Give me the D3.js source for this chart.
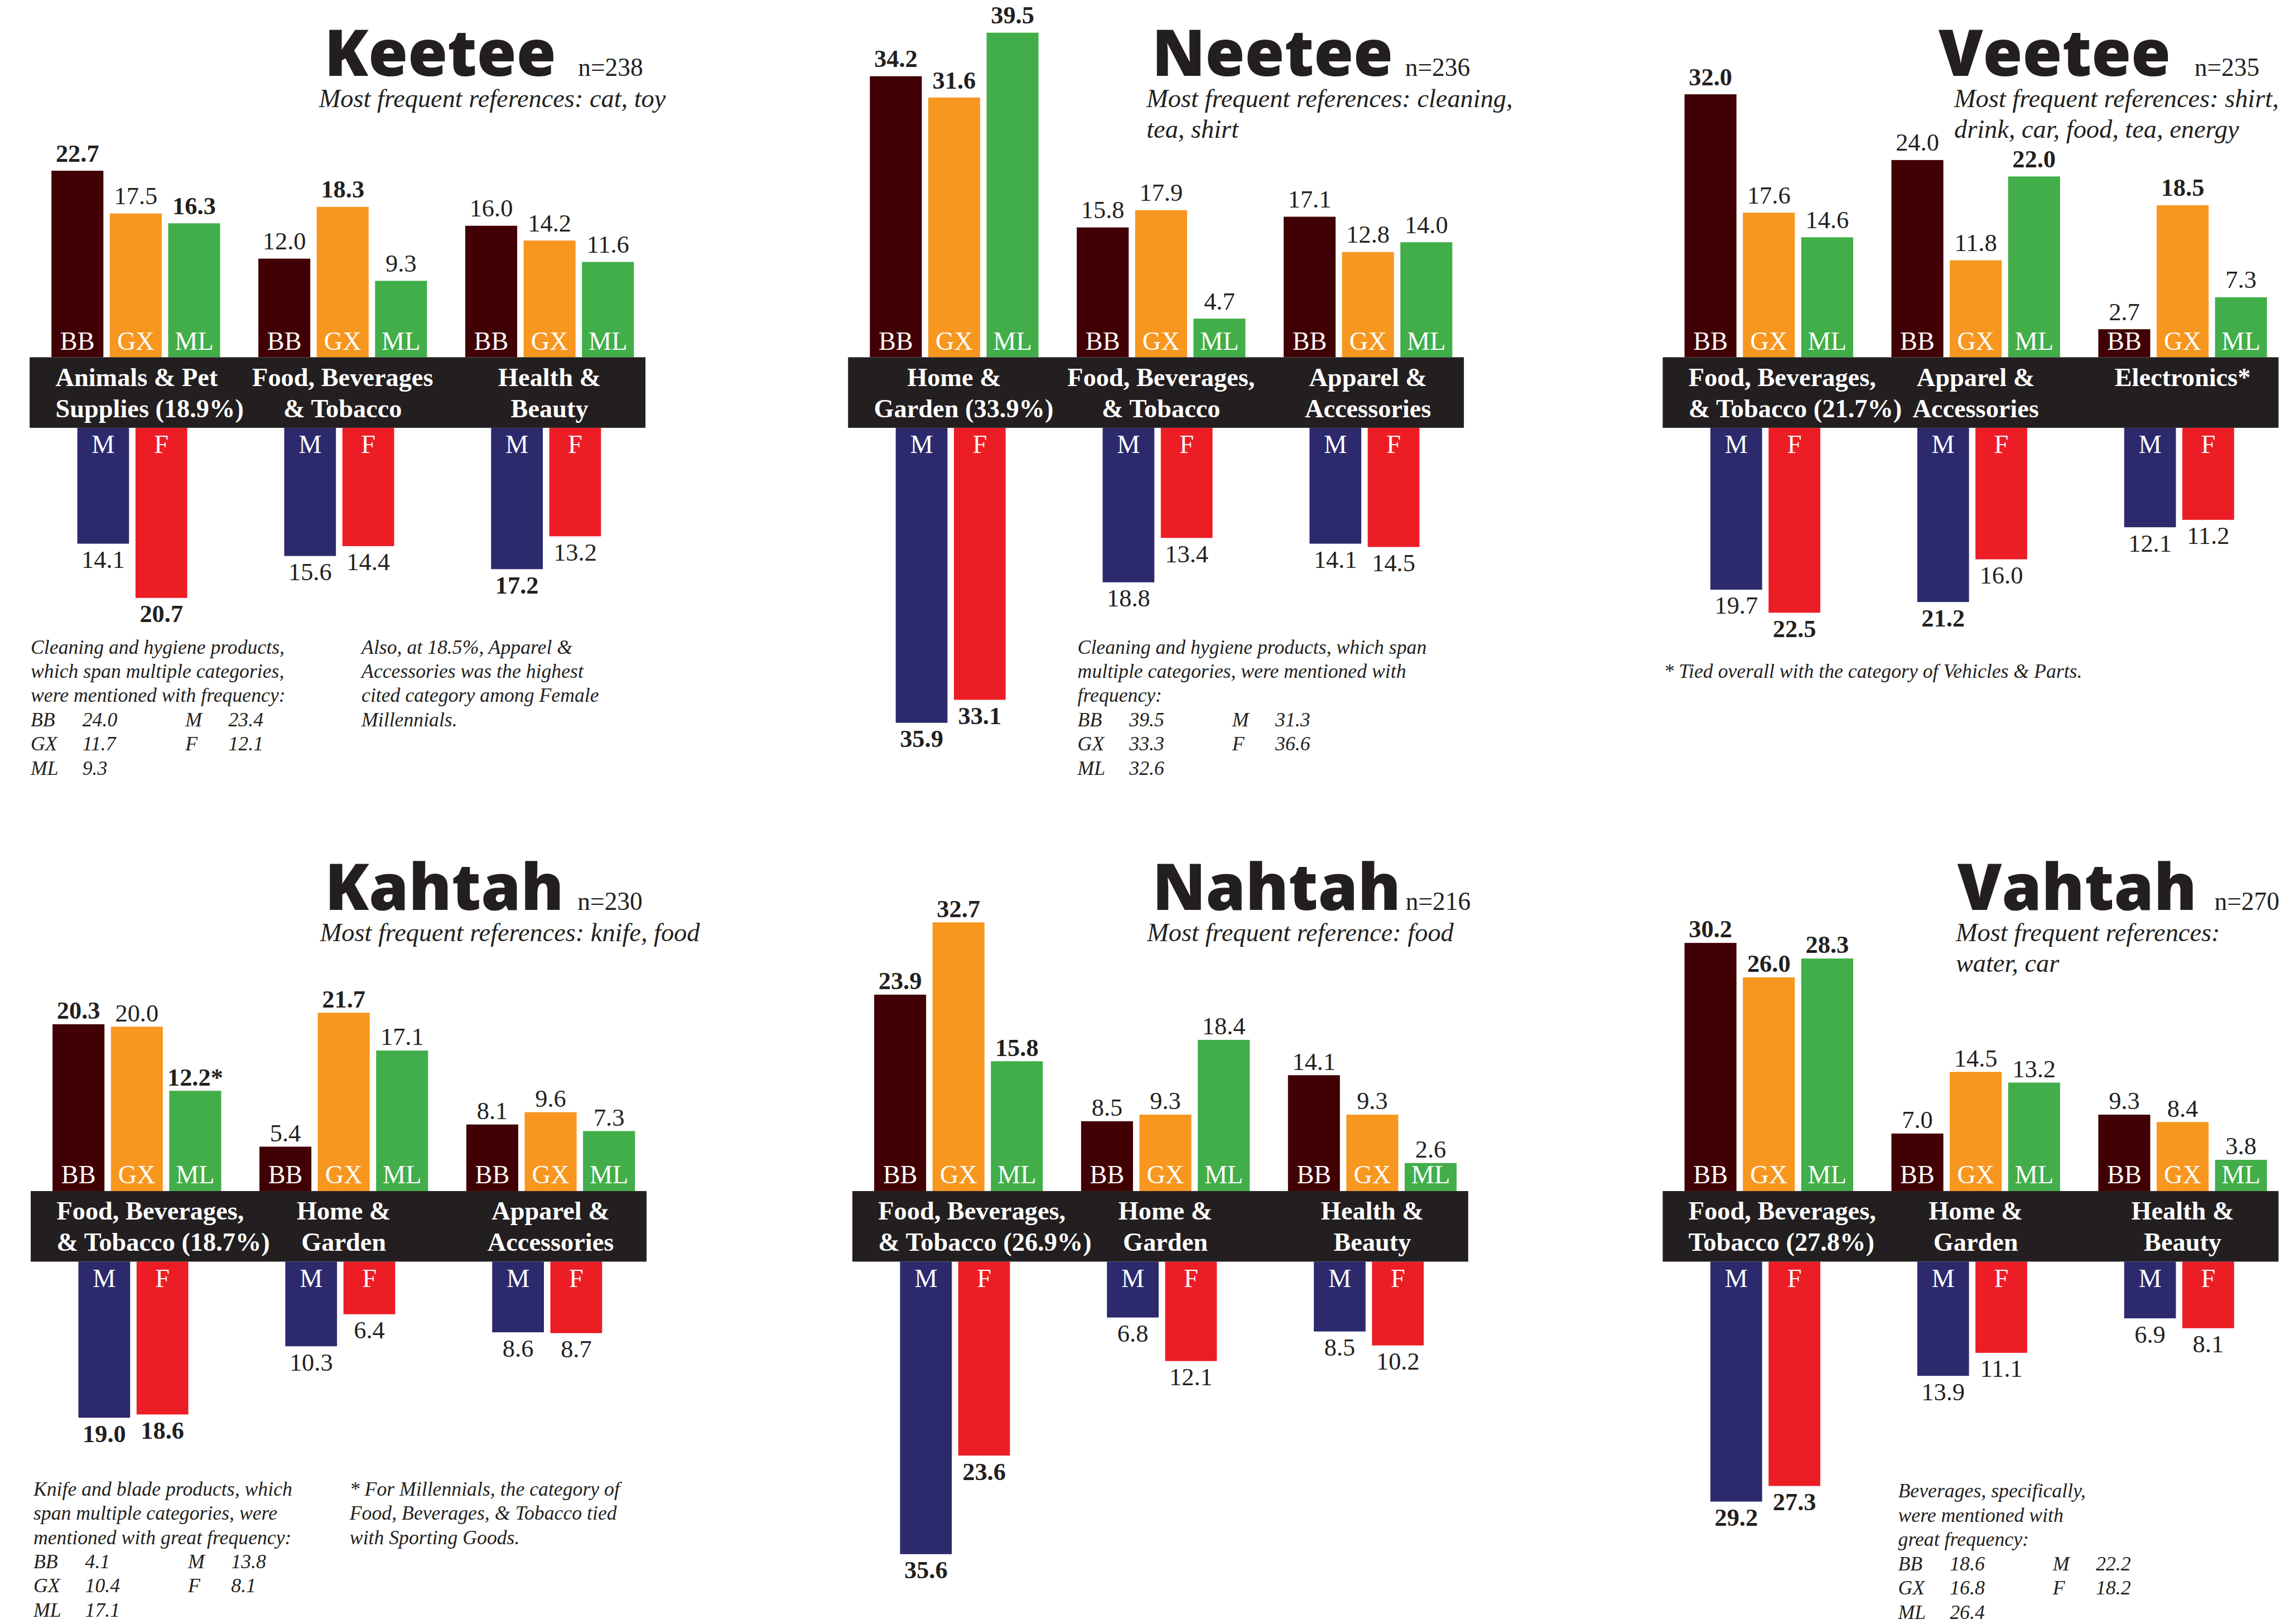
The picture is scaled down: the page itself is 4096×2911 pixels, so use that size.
<!DOCTYPE html>
<html>
<head>
<meta charset="utf-8">
<script src="https://cdn.jsdelivr.net/npm/d3@7"></script>
<style>
  body { margin: 0; background: #fff; }
</style>
</head>
<body>
<div id="chart"></div>
<script>
var svgWidth = 4096;
var svgHeight = 2911;
// the drawing is laid out in the reference's own units and scaled down by the viewBox
var refWidth = 4241;
var refHeight = 3014;

var demos = ["BB", "GX", "ML"];
var genders = ["M", "F"];
var tableRows = [["BB", "M"], ["GX", "F"], ["ML"]];

// Keetee
var keeteeSub = ["Most frequent references: cat, toy"];
var keeteeCats = ["Animals & Pet|Supplies (18.9%)", "Food, Beverages|& Tobacco", "Health &|Beauty"];
var keeteeBB = [22.7, 12.0, 16.0];
var keeteeGX = [17.5, 18.3, 14.2];
var keeteeML = [16.3, 9.3, 11.6];
var keeteeM = [14.1, 15.6, 17.2];
var keeteeF = [20.7, 14.4, 13.2];
var keeteeBold = [0, 1, 0, 2, 0]; // bold category index for BB, GX, ML, M, F
var keeteeCleaning = [24.0, 11.7, 9.3, 23.4, 12.1];

// Neetee
var neeteeSub = ["Most frequent references: cleaning,", "tea, shirt"];
var neeteeCats = ["Home &|Garden (33.9%)", "Food, Beverages,|& Tobacco", "Apparel &|Accessories"];
var neeteeBB = [34.2, 15.8, 17.1];
var neeteeGX = [31.6, 17.9, 12.8];
var neeteeML = [39.5, 4.7, 14.0];
var neeteeM = [35.9, 18.8, 14.1];
var neeteeF = [33.1, 13.4, 14.5];
var neeteeBold = [0, 0, 0, 0, 0];
var neeteeCleaning = [39.5, 33.3, 32.6, 31.3, 36.6];

// Veetee
var veeteeSub = ["Most frequent references: shirt,", "drink, car, food, tea, energy"];
var veeteeCats = ["Food, Beverages,|& Tobacco (21.7%)", "Apparel &|Accessories", "Electronics*"];
var veeteeBB = [32.0, 24.0, 2.7];
var veeteeGX = [17.6, 11.8, 18.5];
var veeteeML = [14.6, 22.0, 7.3];
var veeteeM = [19.7, 21.2, 12.1];
var veeteeF = [22.5, 16.0, 11.2];
var veeteeBold = [0, 2, 1, 1, 0];

// Kahtah
var kahtahSub = ["Most frequent references: knife, food"];
var kahtahCats = ["Food, Beverages,|& Tobacco (18.7%)", "Home &|Garden", "Apparel &|Accessories"];
var kahtahBB = [20.3, 5.4, 8.1];
var kahtahGX = [20.0, 21.7, 9.6];
var kahtahML = [12.2, 17.1, 7.3];
var kahtahMLMark = ["*", "", ""];
var kahtahM = [19.0, 10.3, 8.6];
var kahtahF = [18.6, 6.4, 8.7];
var kahtahBold = [0, 1, 0, 0, 0];
var kahtahBlades = [4.1, 10.4, 17.1, 13.8, 8.1];

// Nahtah
var nahtahSub = ["Most frequent reference: food"];
var nahtahCats = ["Food, Beverages,|& Tobacco (26.9%)", "Home &|Garden", "Health &|Beauty"];
var nahtahBB = [23.9, 8.5, 14.1];
var nahtahGX = [32.7, 9.3, 9.3];
var nahtahML = [15.8, 18.4, 2.6];
var nahtahM = [35.6, 6.8, 8.5];
var nahtahF = [23.6, 12.1, 10.2];
var nahtahBold = [0, 0, 0, 0, 0];

// Vahtah
var vahtahSub = ["Most frequent references:", "water, car"];
var vahtahCats = ["Food, Beverages,|Tobacco (27.8%)", "Home &|Garden", "Health &|Beauty"];
var vahtahBB = [30.2, 7.0, 9.3];
var vahtahGX = [26.0, 14.5, 8.4];
var vahtahML = [28.3, 13.2, 3.8];
var vahtahM = [29.2, 13.9, 6.9];
var vahtahF = [27.3, 11.1, 8.1];
var vahtahBold = [0, 0, 0, 0, 0];
var vahtahBeverages = [18.6, 16.8, 26.4, 22.2, 18.2];

var panels = [
  { name: "Keetee", n: 238, sub: keeteeSub, cats: keeteeCats,
    up: [keeteeBB, keeteeGX, keeteeML], down: [keeteeM, keeteeF], bold: keeteeBold,
    notes: [
      { lines: ["Cleaning and hygiene products,", "which span multiple categories,", "were mentioned with frequency:"], table: keeteeCleaning },
      { lines: ["Also, at 18.5%, Apparel &", "Accessories was the highest", "cited category among Female", "Millennials."] }
    ] },
  { name: "Neetee", n: 236, sub: neeteeSub, cats: neeteeCats,
    up: [neeteeBB, neeteeGX, neeteeML], down: [neeteeM, neeteeF], bold: neeteeBold,
    notes: [
      { lines: ["Cleaning and hygiene products, which span", "multiple categories, were mentioned with", "frequency:"], table: neeteeCleaning }
    ] },
  { name: "Veetee", n: 235, sub: veeteeSub, cats: veeteeCats,
    up: [veeteeBB, veeteeGX, veeteeML], down: [veeteeM, veeteeF], bold: veeteeBold,
    notes: [
      { lines: ["* Tied overall with the category of Vehicles & Parts."] }
    ] },
  { name: "Kahtah", n: 230, sub: kahtahSub, cats: kahtahCats,
    up: [kahtahBB, kahtahGX, kahtahML], down: [kahtahM, kahtahF], bold: kahtahBold,
    marks: { ML: kahtahMLMark },
    notes: [
      { lines: ["Knife and blade products, which", "span multiple categories, were", "mentioned with great frequency:"], table: kahtahBlades },
      { lines: ["* For Millennials, the category of", "Food, Beverages, & Tobacco tied", "with Sporting Goods."] }
    ] },
  { name: "Nahtah", n: 216, sub: nahtahSub, cats: nahtahCats,
    up: [nahtahBB, nahtahGX, nahtahML], down: [nahtahM, nahtahF], bold: nahtahBold,
    notes: [] },
  { name: "Vahtah", n: 270, sub: vahtahSub, cats: vahtahCats,
    up: [vahtahBB, vahtahGX, vahtahML], down: [vahtahM, vahtahF], bold: vahtahBold,
    notes: [
      { lines: ["Beverages, specifically,", "were mentioned with", "great frequency:"], table: vahtahBeverages }
    ] }
];

// where each panel sits (x = left edge of the black band, top = top of the band)
var layout = [
  { x: 55,   top: 663,    titleDx: 547, subDx: 537, nDx: 1018, noteDx: [2, 616], noteLine: [0, 0], noteY: 550, gap: 17 },
  { x: 1574, top: 663,    titleDx: 564, subDx: 554, nDx: 1034, noteDx: [426],    noteLine: [0],    noteY: 550, gap: 17 },
  { x: 3086, top: 663,    titleDx: 512, subDx: 541, nDx: 987,  noteDx: [2],      noteLine: [1],    noteY: 550, gap: 17 },
  { x: 57,   top: 2210.5, titleDx: 546, subDx: 537, nDx: 1015, noteDx: [5, 592], noteLine: [0, 0], noteY: 565, gap: 10 },
  { x: 1582, top: 2210.5, titleDx: 557, subDx: 547, nDx: 1027, noteDx: [],       noteLine: [],     noteY: 565, gap: 10 },
  { x: 3086, top: 2210.5, titleDx: 547, subDx: 544, nDx: 1024, noteDx: [437],    noteLine: [0],    noteY: 569, gap: 10 }
];

var bandWidth = 1143;
var bandHeight = 131;
var minBar = 52;
var titleWidth = 430;

var serif = "'Liberation Serif', 'Times New Roman', serif";
var sans = "'Open Sans', sans-serif";
var ink = "#231f20";
var fmt = d3.format(".1f");

var color = d3.scaleOrdinal()
  .domain(["BB", "GX", "ML", "M", "F"])
  .range(["#410104", "#f7971f", "#41ae49", "#2c2a6d", "#ed1d26"]);

var svg = d3.select("#chart")
  .append("svg")
  .attr("width", svgWidth)
  .attr("height", svgHeight)
  .attr("viewBox", `0 0 ${refWidth} ${refHeight}`);

svg.append("rect")
  .attr("width", refWidth)
  .attr("height", refHeight)
  .attr("fill", "#fff");

// size the title face so that "Keetee" comes out as wide as in the reference
var probe = svg.append("text")
  .attr("font-family", sans)
  .attr("font-weight", 800)
  .attr("font-size", 100)
  .text("Keetee");
var titleSize = 100 * titleWidth / probe.node().getComputedTextLength();
probe.remove();

// value scale, shared by every panel
var y = d3.scaleLinear().domain([0, 40]).range([0, 610]);

// groups of three bars, then the bars within a group
var x0 = d3.scaleBand().domain([0, 1, 2]).range([40.5, 1121.5]).paddingInner(71 / 384);
var x1 = d3.scaleBand().domain(demos).range([0, x0.bandwidth()]).paddingInner(0.11);
var xg = d3.scaleBand().domain(genders).range([48, 252]).paddingInner(0.111);

panels.forEach(function(p, pi) {
  var L = layout[pi];
  var g = svg.append("g").attr("transform", `translate(${L.x}, ${L.top})`);

  // title, sample size and subtitle
  g.append("text")
    .attr("x", L.titleDx)
    .attr("y", -522)
    .attr("font-family", sans)
    .attr("font-weight", 800)
    .attr("font-size", titleSize)
    .attr("fill", ink)
    .text(p.name);

  g.append("text")
    .attr("x", L.nDx)
    .attr("y", -522)
    .attr("font-family", serif)
    .attr("font-size", 47)
    .attr("fill", ink)
    .text("n=" + p.n);

  p.sub.forEach(function(line, k) {
    g.append("text")
      .attr("x", L.subDx)
      .attr("y", -464 + k * 57)
      .attr("font-family", serif)
      .attr("font-style", "italic")
      .attr("font-size", 48)
      .attr("fill", ink)
      .text(line);
  });

  // upward bars: BB, GX, ML
  var upData = [];
  p.up.forEach(function(series, s) {
    series.forEach(function(v, i) {
      var mark = (p.marks && p.marks[demos[s]]) ? p.marks[demos[s]][i] : "";
      upData.push({ key: demos[s], cat: i, value: v, bold: p.bold[s] === i, mark: mark });
    });
  });

  var upH = d => Math.max(y(d.value), minBar);

  g.selectAll(".up")
    .data(upData)
    .enter()
    .append("rect")
    .attr("class", "up")
    .attr("x", d => x0(d.cat) + x1(d.key))
    .attr("y", d => -upH(d))
    .attr("width", x1.bandwidth())
    .attr("height", d => upH(d))
    .attr("fill", d => color(d.key));

  g.selectAll(".upValue")
    .data(upData)
    .enter()
    .append("text")
    .attr("class", "upValue")
    .attr("x", d => x0(d.cat) + x1(d.key) + x1.bandwidth() / 2)
    .attr("y", d => -upH(d) - L.gap)
    .attr("text-anchor", "middle")
    .attr("font-family", serif)
    .attr("font-size", 46)
    .attr("font-weight", d => d.bold ? "bold" : "normal")
    .attr("fill", ink)
    .text(d => fmt(d.value) + d.mark);

  g.selectAll(".upKey")
    .data(upData)
    .enter()
    .append("text")
    .attr("class", "upKey")
    .attr("x", d => x0(d.cat) + x1(d.key) + x1.bandwidth() / 2)
    .attr("y", -14)
    .attr("text-anchor", "middle")
    .attr("font-family", serif)
    .attr("font-size", 48)
    .attr("fill", "#fff")
    .text(d => d.key);

  // downward bars: M, F
  var downData = [];
  p.down.forEach(function(series, s) {
    series.forEach(function(v, i) {
      downData.push({ key: genders[s], cat: i, value: v, bold: p.bold[3 + s] === i });
    });
  });

  g.selectAll(".down")
    .data(downData)
    .enter()
    .append("rect")
    .attr("class", "down")
    .attr("x", d => x0(d.cat) + xg(d.key))
    .attr("y", bandHeight)
    .attr("width", xg.bandwidth())
    .attr("height", d => y(d.value))
    .attr("fill", d => color(d.key));

  g.selectAll(".downValue")
    .data(downData)
    .enter()
    .append("text")
    .attr("class", "downValue")
    .attr("x", d => x0(d.cat) + xg(d.key) + xg.bandwidth() / 2)
    .attr("y", d => bandHeight + y(d.value) + 45)
    .attr("text-anchor", "middle")
    .attr("font-family", serif)
    .attr("font-size", 46)
    .attr("font-weight", d => d.bold ? "bold" : "normal")
    .attr("fill", ink)
    .text(d => fmt(d.value));

  g.selectAll(".downKey")
    .data(downData)
    .enter()
    .append("text")
    .attr("class", "downKey")
    .attr("x", d => x0(d.cat) + xg(d.key) + xg.bandwidth() / 2)
    .attr("y", bandHeight + 47)
    .attr("text-anchor", "middle")
    .attr("font-family", serif)
    .attr("font-size", 48)
    .attr("fill", "#fff")
    .text(d => d.key);

  // black band with the category names
  g.append("rect")
    .attr("x", 0)
    .attr("y", 0)
    .attr("width", bandWidth)
    .attr("height", bandHeight)
    .attr("fill", ink);

  p.cats.forEach(function(cat, i) {
    var cx = x0(i) + x0.bandwidth() / 2;
    cat.split("|").forEach(function(line, k) {
      var t = g.append("text")
        .attr("x", cx)
        .attr("y", 53 + k * 58)
        .attr("text-anchor", "middle")
        .attr("font-family", serif)
        .attr("font-weight", "bold")
        .attr("font-size", 48)
        .attr("fill", "#fff")
        .text(line);
      // long lines keep clear of the band's left edge
      var w = t.node().getComputedTextLength();
      if (cx - w / 2 < 48) t.attr("x", 48 + w / 2);
    });
  });

  // notes under the bars
  p.notes.forEach(function(note, ni) {
    var nx = L.noteDx[ni];
    var line0 = L.noteLine[ni];
    var rows = note.lines.length;
    note.lines.forEach(function(line, k) {
      g.append("text")
        .attr("x", nx)
        .attr("y", L.noteY + (line0 + k) * 45)
        .attr("font-family", serif)
        .attr("font-style", "italic")
        .attr("font-size", 37)
        .attr("fill", ink)
        .text(line);
    });
    if (note.table) {
      var lookup = {};
      demos.concat(genders).forEach(function(k, j) { lookup[k] = note.table[j]; });
      var cols = [0, 96, 287, 367];
      tableRows.forEach(function(row, r) {
        row.forEach(function(key, c) {
          var ty = L.noteY + (line0 + rows + r) * 45;
          g.append("text")
            .attr("x", nx + cols[c * 2])
            .attr("y", ty)
            .attr("font-family", serif)
            .attr("font-style", "italic")
            .attr("font-size", 37)
            .attr("fill", ink)
            .text(key);
          g.append("text")
            .attr("x", nx + cols[c * 2 + 1])
            .attr("y", ty)
            .attr("font-family", serif)
            .attr("font-style", "italic")
            .attr("font-size", 37)
            .attr("fill", ink)
            .text(fmt(lookup[key]));
        });
      });
    }
  });
});
</script>
</body>
</html>
